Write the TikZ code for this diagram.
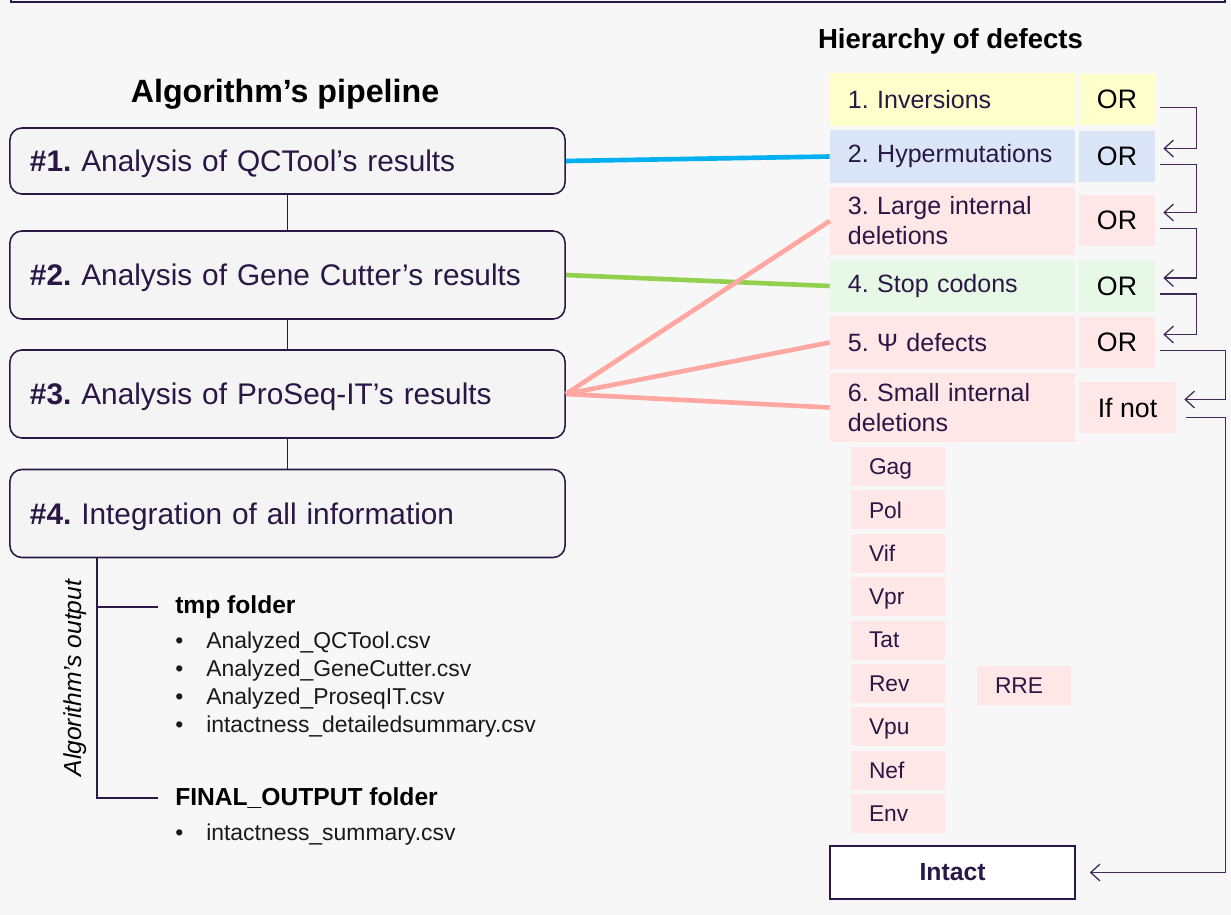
\documentclass[tikz,border=0pt]{standalone}
\usepackage{fontspec}
\setmainfont{Liberation Sans}
\usepackage{tikz}
\usetikzlibrary{arrows.meta,positioning,calc}

\definecolor{inkpurple}{HTML}{2A1745}
\definecolor{linkpurple}{HTML}{3E2B58}
\definecolor{bggray}{HTML}{F7F7F7}
\definecolor{boxgray}{HTML}{F4F4F5}
\definecolor{defyellow}{HTML}{FFFFCC}
\definecolor{defblue}{HTML}{DAE6F7}
\definecolor{defpink}{HTML}{FFE7E7}
\definecolor{defgreen}{HTML}{E7F9E6}
\definecolor{qcblue}{HTML}{00B0F0}
\definecolor{gcgreen}{HTML}{92D050}
\definecolor{psred}{HTML}{FFA7A0}

\frenchspacing

\begin{document}
\begin{tikzpicture}[
    x=0.025cm, y=-0.025cm,
    % 流程框样式
    pipe box/.style={
        rectangle,                 % 圆角矩形
        rounded corners=0.3cm,
        draw=inkpurple,            % 深紫色边框
        line width=1.1pt,
        fill=boxgray,
        text=inkpurple,
        align=left,
        text width=12.875cm,
        inner xsep=0.5cm,
        inner ysep=0pt,
        text depth=0pt,
        font=\fontsize{21.2}{25}\selectfont
    },
    % 标题样式
    title text/.style={
        font=\bfseries\fontsize{#1}{#1}\selectfont,
        text=black,
        inner sep=0pt
    },
    % 缺陷框样式 (颜色作参数)
    defect box/.style={
        rectangle,
        fill=#1,
        text=inkpurple,
        align=left,
        text width=5.225cm,
        inner xsep=0.45cm,
        inner ysep=0pt,
        minimum height=1.3cm,
        font=\fontsize{17.8}{21.3}\selectfont
    },
    % OR 框样式
    or box/.style={
        rectangle,
        fill=#1,
        text=black,
        minimum width=1.9cm,
        minimum height=1.275cm,
        inner sep=0pt,
        font=\fontsize{19}{22}\selectfont
    },
    % 基因框样式
    gene box/.style={
        rectangle,
        fill=defpink,
        text=inkpurple,
        align=left,
        text width=1.45cm,
        inner xsep=0.45cm,
        inner ysep=0pt,
        text depth=0pt,
        minimum height=0.975cm,
        font=\fontsize{16.2}{19}\selectfont
    },
    % 完整框样式
    intact box/.style={
        rectangle,
        draw=inkpurple,
        line width=1.1pt,
        fill=white,
        text=inkpurple,
        minimum width=6.125cm,
        minimum height=1.325cm,
        inner sep=0pt,
        font=\bfseries\fontsize{17.6}{20}\selectfont
    },
    % 输出文件夹与文件列表
    folder text/.style={
        anchor=west,
        inner sep=0pt,
        text=black,
        font=\bfseries\fontsize{17.5}{20}\selectfont
    },
    file item/.style={
        anchor=west,
        inner sep=0pt,
        text=black!90,
        font=\fontsize{16.3}{19}\selectfont
    },
    % 连线样式
    pipe link/.style={
        draw=inkpurple,
        line width=1.1pt
    },
    or link/.style={
        draw=linkpurple,
        line width=0.9pt,
        -{Straight Barb[length=2.3mm,width=4.2mm]}
    },
    defect link/.style={
        line width=3.3pt
    }
]

% 背景与顶部边框
\fill[bggray] (0,0) rectangle (1231,915);
\useasboundingbox (0,0) rectangle (1231,915);
\draw[inkpurple, line width=2.1pt] (11,-5) -- (11,2) -- (1225,2) -- (1225,-5);

% 标题
\node[title text=22.9] (pipetitle) at (285,94) {Algorithm’s pipeline};
\node[title text=19.6] (hiertitle) at (950.5,41) {Hierarchy of defects};

% 算法流程
\node[pipe box, minimum height=1.65cm] (s1) at (287.5,161) {\textbf{\#1.} Analysis of QCTool’s results};
\node[pipe box, minimum height=2.2cm] (s2) at (287.5,275) {\textbf{\#2.} Analysis of Gene Cutter’s results};
\node[pipe box, minimum height=2.2cm] (s3) at (287.5,394) {\textbf{\#3.} Analysis of ProSeq-IT’s results};
\node[pipe box, minimum height=2.2cm] (s4) at (287.5,513.5) {\textbf{\#4.} Integration of all information};

\draw[pipe link] (s1) -- (s2);
\draw[pipe link] (s2) -- (s3);
\draw[pipe link] (s3) -- (s4);

% 缺陷层级
\node[defect box=defyellow] (d1) at (952.5,99.5) {1. Inversions};
\node[defect box=defblue] (d2) at (952.5,156.5) {2. Hypermutations};
\node[defect box=defpink, minimum height=1.675cm] (d3) at (952.5,221) {3. Large internal\\deletions};
\node[defect box=defgreen] (d4) at (952.5,286) {4. Stop codons};
\node[defect box=defpink] (d5) at (952.5,342.5) {5. Ψ defects};
\node[defect box=defpink, minimum height=1.7cm] (d6) at (952.5,407.5) {6. Small internal\\deletions};

\node[or box=defyellow] (o1) at (1117,99.5) {OR};
\node[or box=defblue] (o2) at (1117,156.5) {OR};
\node[or box=defpink] (o3) at (1117,220.5) {OR};
\node[or box=defgreen] (o4) at (1117,286) {OR};
\node[or box=defpink] (o5) at (1117,342.5) {OR};
\node[or box=defpink, minimum width=2.425cm] (ifnot) at (1127.5,407.5) {If not};

% 基因
\foreach \g [count=\i] in {Gag,Pol,Vif,Vpr,Tat,Rev,Vpu,Nef,Env}
    \node[gene box] (g\i) at (898,{466.5+43.4*(\i-1)}) {\g};
\node[gene box] (rre) at (1024,685.5) {RRE};

\node[intact box] (intact) at (952.5,872.5) {Intact};

% OR 之间的连线
\foreach \a/\b in {o1/o2,o2/o3,o3/o4,o4/o5}
    \draw[or link] ([xshift=.125cm,yshift=-.2cm]\a.east) -- ++(.9cm,0) |- ([xshift=.2cm,yshift=.2cm]\b.east);
\draw[or link] ([xshift=.125cm,yshift=-.2cm]o5.east) -- ++(1.625cm,0) |- ([xshift=.2cm,yshift=.2cm]ifnot.east);
\draw[or link] ([xshift=.25cm,yshift=-.25cm]ifnot.east) -- ++(.975cm,0) |- ([xshift=.35cm]intact.east);

% 流程到缺陷的彩色连线
\draw[defect link, qcblue] (s1.east) -- (d2.west);
\draw[defect link, gcgreen] (s2.east) -- (d4.west);
\foreach \d in {d3,d5,d6}
    \draw[defect link, psred] (s3.east) -- (\d.west);

% 算法输出
\node[rotate=90, inner sep=0pt, text=black, font=\itshape\fontsize{17.5}{20}\selectfont] (outlabel) at (75,678) {Algorithm’s output};
\coordinate (outtop) at ([xshift=2.2cm]s4.south west);
\node[folder text] (tmp) at (175,607) {tmp folder};
\node[folder text] (final) at (175,798) {FINAL\_OUTPUT folder};
\draw[pipe link] (outtop) |- ([xshift=-.425cm]final.west);
\draw[pipe link] (outtop |- tmp.west) -- ([xshift=-.425cm]tmp.west);

\foreach \f/\y [count=\i] in {Analyzed\_QCTool.csv/643,Analyzed\_GeneCutter.csv/671,Analyzed\_ProseqIT.csv/699,intactness\_detailedsummary.csv/727}
    \node[file item] (tf\i) at (175,\y) {\makebox[0.775cm][l]{•}\f};
\node[file item] (ff1) at (175,835) {\makebox[0.775cm][l]{•}intactness\_summary.csv};

\end{tikzpicture}
\end{document}
